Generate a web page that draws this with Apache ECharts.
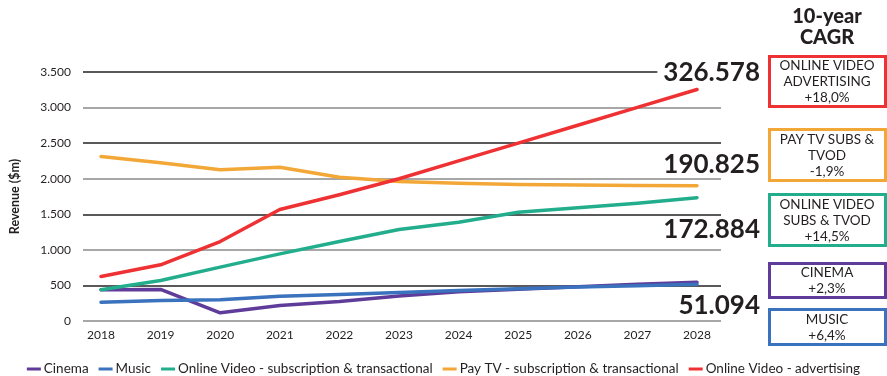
<!DOCTYPE html>
<html>
<head>
<meta charset="utf-8">
<script src="https://cdn.jsdelivr.net/npm/echarts@6/dist/echarts.min.js"></script>
<style>
html,body{margin:0;padding:0;background:#fff;}
#chart{width:887px;height:376px;}
</style>
</head>
<body>
<div id="chart"></div>
<script>
// ---- data ----
const years = ['2018','2019','2020','2021','2022','2023','2024','2025','2026','2027','2028'];
const cinema     = [438, 443, 115, 218, 274, 350, 410, 445, 480, 515, 545];
const music      = [265, 288, 298, 349, 372, 400, 430, 455, 478, 497, 515];
const onlineSubs = [438, 569, 757, 944, 1117, 1285, 1389, 1530, 1591, 1656, 1732];
const payTv      = [2312, 2224, 2125, 2162, 2022, 1962, 1935, 1920, 1912, 1905, 1900];
const onlineAds  = [625, 790, 1117, 1567, 1774, 2000, 2250, 2501, 2752, 3003, 3254];
const seriesNames = ['Cinema','Music','Online Video - subscription & transactional','Pay TV - subscription & transactional','Online Video - advertising'];
const yTicks = [0, 500, 1000, 1500, 2000, 2500, 3000, 3500];
const totals = ['326.578','190.825','172.884','51.094'];
const cagrTitle = ['10-year','CAGR'];
const cagrLabels = [
  'ONLINE VIDEO\nADVERTISING\n+18,0%',
  'PAY TV SUBS &\nTVOD\n-1,9%',
  'ONLINE VIDEO\nSUBS & TVOD\n+14,5%',
  'CINEMA\n+2,3%',
  'MUSIC\n+6,4%'
];

// ---- styles ----
const FONT = 'Lato';
const TXT = '#231f20';
const colors = ['#5f3c99','#3a72bd','#22ae8c','#f2a737','#ee3133'];

const chart = echarts.init(document.getElementById('chart'));

const seriesData = [cinema, music, onlineSubs, payTv, onlineAds];
const series = seriesData.map((d, i) => ({
  name: seriesNames[i],
  type: 'line',
  xAxisIndex: 1,
  yAxisIndex: 1,
  data: d,
  symbol: 'none',
  smooth: false,
  lineStyle: { width: 3.5, color: colors[i], cap: 'round', join: 'round' },
  itemStyle: { color: colors[i] },
  z: 3 + i
}));

// annotation boxes (CAGR)
const boxTops = [55, 128, 193, 262, 308];
const boxHeights = [53, 54, 54, 37, 38];
const boxColors = [colors[4], colors[3], colors[2], colors[0], colors[1]];
const graphics = [];
cagrTitle.forEach((t, i) => {
  graphics.push({
    type: 'text', x: 827, y: [17, 38][i],
    style: { text: t, fontFamily: FONT, fontWeight: 900, fontSize: 20, fill: TXT, align: 'center', verticalAlign: 'middle' }
  });
});
cagrLabels.forEach((t, i) => {
  graphics.push({
    type: 'rect',
    shape: { x: 769.5, y: boxTops[i] + 1.5, width: 116, height: boxHeights[i] - 3 },
    style: { fill: '#fff', stroke: boxColors[i], lineWidth: 3 }
  });
  graphics.push({
    type: 'text', x: 827, y: boxTops[i] + boxHeights[i] / 2 + 0.5,
    style: { text: t, fontFamily: FONT, fontSize: 13.5, lineHeight: 16, fill: TXT, align: 'center', verticalAlign: 'middle' }
  });
});
const totalY = [73, 165, 230, 306];
totals.forEach((t, i) => {
  graphics.push({
    type: 'text', x: 760, y: totalY[i], z: 10,
    style: { text: t, fontFamily: FONT, fontWeight: 'bold', fontSize: 26, fill: TXT, align: 'right', verticalAlign: 'middle',
      backgroundColor: i === 0 ? '#fff' : 'transparent', padding: i === 0 ? [0, 0, 0, 6] : 0 }
  });
});

const option = {
  animation: false,
  textStyle: { fontFamily: FONT, color: TXT },
  grid: [
    { left: 79, right: 166, top: 72, height: 249 },
    { left: 101, right: 190, top: 72, height: 249 }
  ],
  xAxis: [
    { gridIndex: 0, type: 'value', min: 0, max: 1, show: false },
    { gridIndex: 1, type: 'category', data: years, boundaryGap: false,
      axisLine: { show: false }, axisTick: { show: false },
      axisLabel: { fontFamily: FONT, fontSize: 12, color: TXT, margin: 8 } }
  ],
  yAxis: [
    { gridIndex: 0, type: 'value', min: yTicks[0], max: yTicks[yTicks.length - 1], interval: yTicks[1] - yTicks[0],
      name: 'Revenue ($m)', nameLocation: 'middle', nameGap: 62, nameRotate: 90,
      nameTextStyle: { fontFamily: FONT, fontWeight: 'bold', fontSize: 12.5, color: TXT },
      axisLine: { show: false }, axisTick: { show: false },
      axisLabel: { fontFamily: FONT, fontSize: 12, color: TXT, margin: 12,
        formatter: v => String(v).replace(/\B(?=(\d{3})+(?!\d))/g, '.') },
      splitLine: { show: true, lineStyle: { color: ['#8a8a8a', '#222222'], width: 1.5 } } },
    { gridIndex: 1, type: 'value', min: yTicks[0], max: yTicks[yTicks.length - 1], show: false, splitLine: { show: false } }
  ],
  legend: {
    data: seriesNames,
    left: 'center', top: 357,
    icon: 'rect', itemWidth: 14, itemHeight: 3, itemGap: 10,
    textStyle: { fontFamily: FONT, fontSize: 13.5, color: TXT, padding: [0, 0, 0, -2] }
  },
  series: series,
  graphic: graphics
};
chart.setOption(option);
</script>
</body>
</html>
